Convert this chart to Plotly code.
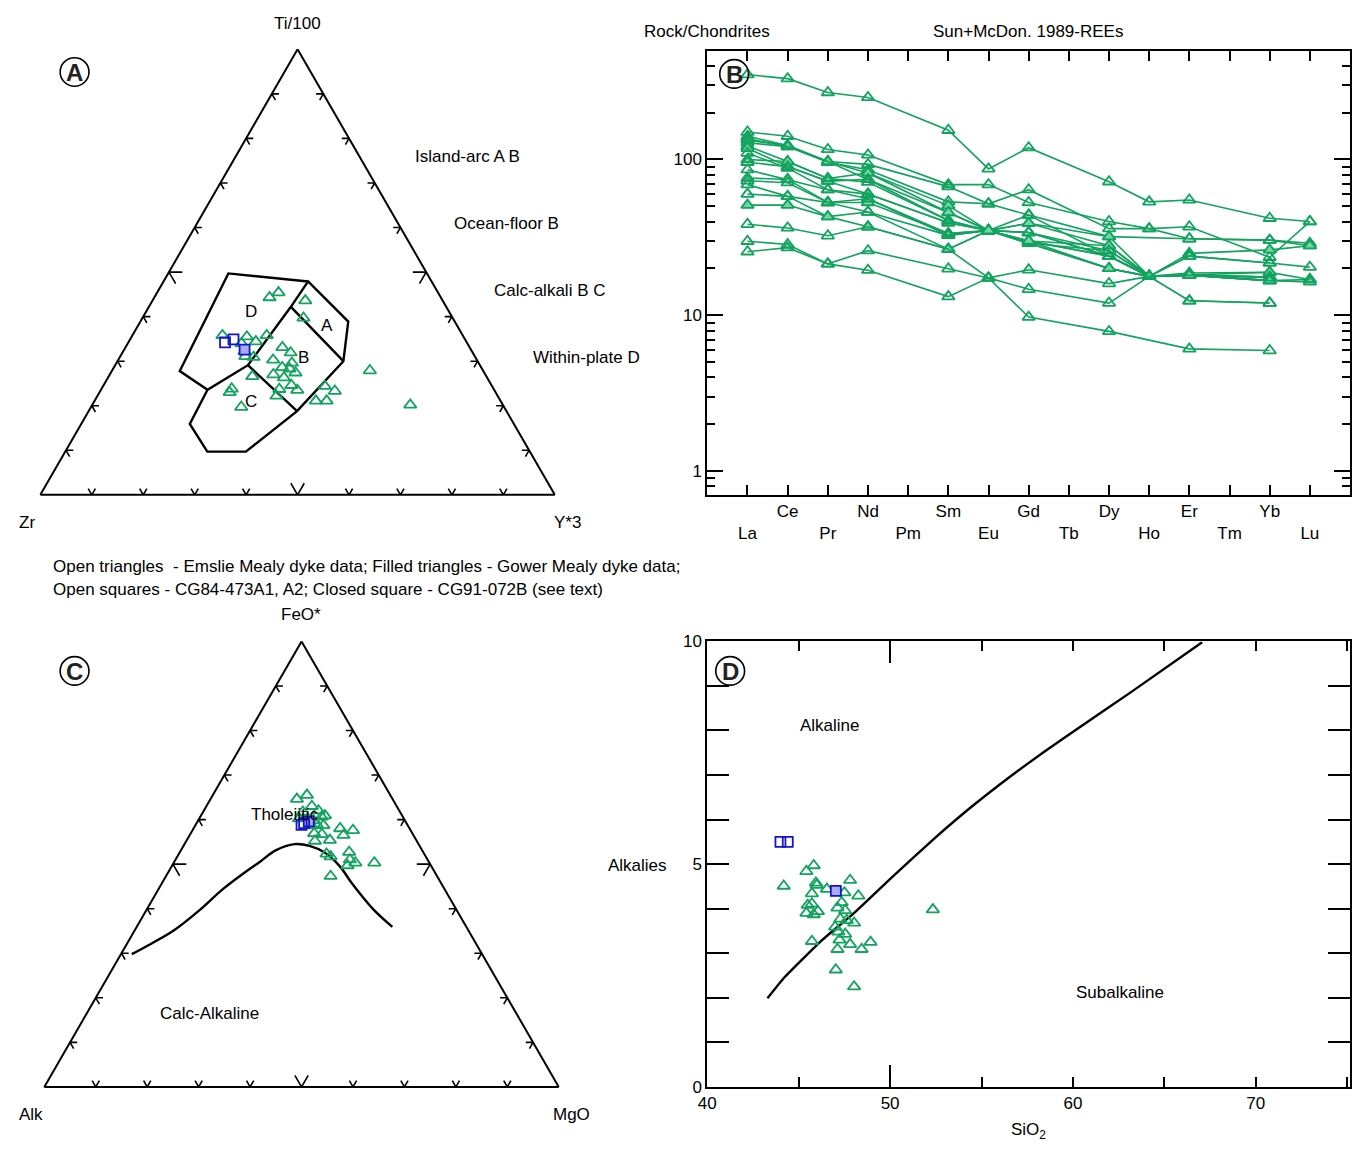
import plotly.graph_objects as go

W, H = 1354, 1151
FONT = "Liberation Sans, Arial, Helvetica, sans-serif"
GREEN = "#12a35e"
MINT = "#74d6a6"
BLUE = "#1414cc"
LBLUE = "#aaaaf0"

# ---------------- Panel A : Ti/100 - Zr - Y*3 (percent) ----------------
A_TI = [45.4, 44.3, 43.6, 39.7, 35.8, 35.5, 35.8, 34.4, 34.0, 32.2, 31.1, 30.9, 33.1, 31.9, 30.3,
        29.6, 28.6, 28.3, 27.4, 27.0, 26.3, 26.6, 24.6, 23.7, 23.5, 22.2, 24.4, 23.3, 21.1, 21.1,
        27.9, 20.2, 23.8, 23.0, 19.7]
A_ZR = [31.0, 33.3, 26.7, 29.0, 46.7, 42.1, 38.1, 40.9, 43.9, 44.2, 44.6, 43.1, 36.4, 35.4, 39.6,
        36.3, 38.7, 37.4, 36.7, 41.2, 39.5, 45.5, 38.9, 41.7, 38.3, 43.0, 32.5, 31.1, 35.9, 33.8,
        22.0, 18.0, 50.9, 51.7, 51.1]
A_Y = [23.6, 22.4, 29.7, 31.3, 17.5, 22.4, 26.1, 24.7, 22.1, 23.6, 24.3, 26.0, 30.5, 32.7, 30.1,
       34.1, 32.7, 34.3, 35.9, 31.8, 34.2, 27.9, 36.5, 34.6, 38.2, 34.8, 43.1, 45.6, 43.0, 45.1,
       50.1, 61.8, 25.3, 25.3, 29.2]
A_SQ_TI = [34.2, 34.9]
A_SQ_ZR = [47.0, 45.0]
A_SQ_Y = [18.8, 20.1]
A_FSQ_TI = [32.6]
A_FSQ_ZR = [44.0]
A_FSQ_Y = [23.4]

# field boundaries (Pearce & Cann), None separates segments
FIELD_TI = [47.9, 49.7, 27.8, 23.6, 29.1, 42.2, 47.9, 38.9, 30.0, 18.8, 9.7, 9.7, 15.9, 23.6, None,
            42.2, 30.0, None, 29.1, 18.8]
FIELD_ZR = [24.0, 38.6, 59.0, 55.7, 45.1, 30.2, 24.0, 20.7, 26.1, 40.7, 55.2, 62.7, 63.0, 55.7, None,
            30.2, 26.1, None, 45.1, 40.7]
FIELD_Y = [28.1, 11.7, 13.2, 20.7, 25.8, 27.6, 28.1, 40.4, 43.9, 40.5, 35.1, 27.6, 21.1, 20.7, None,
           27.6, 43.9, None, 25.8, 40.5]

# ---------------- Panel B : REE / chondrite ----------------
REE = ["La", "Ce", "Pr", "Nd", "Pm", "Sm", "Eu", "Gd", "Tb", "Dy", "Ho", "Er", "Tm", "Yb", "Lu"]
REE_LABELS = ["<br>La", "Ce", "<br>Pr", "Nd", "<br>Pm", "Sm", "<br>Eu", "Gd", "<br>Tb", "Dy",
              "<br>Ho", "Er", "<br>Tm", "Yb", "<br>Lu"]
MEAS = ["La", "Ce", "Pr", "Nd", "Sm", "Eu", "Gd", "Dy", "Ho", "Er", "Yb", "Lu"]
ree_01 = [350, 330, 269, 250, 154, 87, 119, 72, 53.5, 55, 42, 40]
ree_02 = [150, 141, 116, 107, 69, 69, 53, 40, 36, 37, 23.6, 40]
ree_03 = [141, 123, 97, 93, 67, 52, 64, 36, 36, 31, 30.4, 29]
ree_04 = [136, 121, 96, 86, 53.5, 52, 44, 32, None, 31, 30.4, 28]
ree_05 = [133, 123, 97, 82, 50.6, 35, 39, 28, 17.8, 25, 26.3, 28]
ree_06 = [128, 121, 97, 74.5, 45.7, 35, 34, 26, 17.8, 24, 21.7, 20.4]
ree_07 = [122, 97, 75.5, 71.5, 40.6, 35, 30, 24, 17.8, 18.7, 18.9, 17]
ree_08 = [118, 90, 72.6, 60, 39.3, 35, 29, 20, 17.8, 18.1, 16.7, 16.4]
ree_09 = [110, 88, 64, 56, 33.5, 35, 34, 24, 17.8, 18.1, 17.6, None]
ree_10 = [100, 97, 75.5, 82, 45.7, 35, 30, 28, 17.8, 18.1, 18.9, None]
ree_11 = [96, 90, 72.6, 74.5, 40.6, 35, 29, 26, 17.8, 24, 21.7, None]
ree_12 = [86, 74.5, 64, 60, 39.3, 35, 30, 24, 17.8, 18.1, 17.6, None]
ree_13 = [76, 74.5, 53, 53, 33.5, 35, 39, 32, 17.8, 18.1, 16.7, None]
ree_14 = [73, 71, 53, 56, 32.6, 35, 29, 20, 17.8, 18.1, 17.6, None]
ree_15 = [69, 58, 53, 46, 32.6, 35, 34, 24, 17.8, 18.1, 17.6, None]
ree_16 = [60, 58, 43, 46, 26.6, 35, 44, 24, 17.8, 12.4, 12, None]
ree_17 = [51, 51, 43, 37, 26.6, 35, 30, 20, 17.8, 18.1, 16.7, None]
ree_18 = [38.4, 36.4, 32.4, 37, 26.6, 17.4, 19.6, 16, 17.8, 18.1, 16.7, 17]
ree_19 = [29.9, 28.5, 21.4, 26, 19.9, 17.4, 9.75, 7.9, None, 6.1, 5.95, None]
ree_20 = [25.6, 27.2, 21.4, 19.5, 13.2, 17.4, 14.7, 12, 17.8, 12.4, 12, None]
REE_SERIES = [ree_01, ree_02, ree_03, ree_04, ree_05, ree_06, ree_07, ree_08, ree_09, ree_10,
              ree_11, ree_12, ree_13, ree_14, ree_15, ree_16, ree_17, ree_18, ree_19, ree_20]
REE_FILLED = [5, 8, 10, 13, 17]  # 1-based sample numbers plotted with filled triangles

# ---------------- Panel C : AFM (FeO* - Alk - MgO, percent) ----------------
C_FEO = [65.5, 64.6, 63.0, 62.0, 61.7, 60.9, 60.6, 59.8, 60.2, 58.9, 58.7, 58.0, 57.6, 56.5, 56.9,
         56.7, 55.4, 55.2, 52.3, 51.7, 52.7, 51.0, 50.3, 49.7, 50.3, 47.3, 58.7]
C_ALK = [16.2, 18.6, 16.5, 15.7, 18.9, 15.0, 15.8, 17.8, 20.4, 17.6, 16.4, 13.5, 11.2, 13.6, 19.1,
         17.7, 16.8, 19.8, 19.0, 18.5, 14.4, 15.1, 14.4, 16.2, 10.7, 20.7, 18.8]
C_MGO = [18.3, 16.8, 20.5, 22.3, 19.4, 24.1, 23.6, 22.4, 19.4, 23.5, 24.9, 28.5, 31.2, 29.9, 24.0,
         25.6, 27.8, 25.0, 28.7, 29.8, 32.9, 33.9, 35.3, 34.1, 39.0, 32.0, 22.5]
C_SQ_FEO = [58.8, 59.2]
C_SQ_ALK = [20.6, 19.9]
C_SQ_MGO = [20.6, 20.9]
C_FSQ_FEO = [59.6]
C_FSQ_ALK = [18.8]
C_FSQ_MGO = [21.6]
CURVE_FEO = [29.8, 31.7, 35.1, 39.8, 44.4, 48.3, 50.6, 53.1, 54.5, 54.1, 52.6, 49.5, 46.0, 42.7, 39.8, 35.9]
CURVE_ALK = [68.1, 64.1, 57.3, 49.8, 43.1, 36.7, 32.7, 28.5, 24.1, 21.4, 19.2, 17.8, 17.4, 16.8, 16.1, 14.4]
CURVE_MGO = [2.1, 4.2, 7.6, 10.4, 12.5, 15.0, 16.7, 18.4, 21.4, 24.5, 28.2, 32.7, 36.6, 40.5, 44.1, 49.7]

# ---------------- Panel D : SiO2 vs alkalies ----------------
D_SIO2 = [39.98, 45.82, 45.42, 44.18, 45.94, 45.99, 46.54, 45.72, 47.81, 47.50, 48.26, 45.49, 45.72,
          45.42, 45.82, 46.05, 47.12, 47.35, 47.54, 47.27, 47.63, 48.03, 46.99, 47.17, 47.54, 47.23,
          47.81, 45.72, 47.12, 48.44, 48.93, 47.03, 48.03, 52.34]
D_ALK = [5.11, 4.97, 4.84, 4.51, 4.58, 4.53, 4.44, 4.34, 4.64, 4.36, 4.29, 4.08, 4.11, 3.90, 3.87,
         3.94, 4.02, 4.14, 3.96, 3.77, 3.74, 3.68, 3.59, 3.48, 3.43, 3.30, 3.20, 3.27, 3.09, 3.09,
         3.25, 2.63, 2.25, 3.98]
D_SQ_SIO2 = [44.0, 44.4]
D_SQ_ALK = [5.50, 5.50]
D_FSQ_SIO2 = [47.03]
D_FSQ_ALK = [4.40]
BOUND_SIO2 = [43.29, 44.20, 46.29, 47.99, 50.08, 52.43, 54.52, 56.61, 58.45, 60.53, 63.14, 67.07]
BOUND_ALK = [1.99, 2.45, 3.30, 3.89, 4.70, 5.58, 6.31, 6.98, 7.53, 8.12, 8.85, 9.98]


def px(x):
    return x / W


def py(y):
    return 1 - y / H


fig = go.Figure()

tri_open = dict(symbol="triangle-up-open", size=11, color=GREEN, line=dict(width=1.8, color=GREEN))
sq_open = dict(symbol="square-open", size=10, color=BLUE, line=dict(width=1.8, color=BLUE))
sq_fill = dict(symbol="square", size=10, color=LBLUE, line=dict(width=1.8, color=BLUE))


def chevrons(small=1.4, big=2.6):
    a, b, c = [], [], []
    for t in range(10, 100, 10):
        L = big if t == 50 else small
        groups = [
            [(t, 100 - t - L, L), (t, 100 - t, 0), (t - L, 100 - t, L)],
            [(L, 100 - t, t - L), (0, 100 - t, t), (L, 100 - t - L, t)],
            [(t, L, 100 - t - L), (t, 0, 100 - t), (t - L, L, 100 - t)],
        ]
        for g in groups:
            for p in g:
                a.append(p[0]); b.append(p[1]); c.append(p[2])
            a.append(None); b.append(None); c.append(None)
    return a, b, c


cha, chb, chc = chevrons()

# ----- Panel A traces -----
fig.add_trace(go.Scatterternary(a=cha, b=chb, c=chc, mode="lines", subplot="ternary",
                                line=dict(color="black", width=1.6), hoverinfo="skip"))
fig.add_trace(go.Scatterternary(a=FIELD_TI, b=FIELD_ZR, c=FIELD_Y, mode="lines", subplot="ternary",
                                line=dict(color="black", width=2.4), hoverinfo="skip"))
fig.add_trace(go.Scatterternary(a=A_TI, b=A_ZR, c=A_Y, mode="markers", subplot="ternary", marker=tri_open))
fig.add_trace(go.Scatterternary(a=A_FSQ_TI, b=A_FSQ_ZR, c=A_FSQ_Y, mode="markers", subplot="ternary", marker=sq_fill))
fig.add_trace(go.Scatterternary(a=A_SQ_TI, b=A_SQ_ZR, c=A_SQ_Y, mode="markers", subplot="ternary", marker=sq_open))

# ----- Panel C traces -----
fig.add_trace(go.Scatterternary(a=cha, b=chb, c=chc, mode="lines", subplot="ternary2",
                                line=dict(color="black", width=1.6), hoverinfo="skip"))
fig.add_trace(go.Scatterternary(a=CURVE_FEO, b=CURVE_ALK, c=CURVE_MGO, mode="lines", subplot="ternary2",
                                line=dict(color="black", width=2.4, shape="spline", smoothing=1.0),
                                hoverinfo="skip"))
fig.add_trace(go.Scatterternary(a=C_FEO, b=C_ALK, c=C_MGO, mode="markers", subplot="ternary2", marker=tri_open))
fig.add_trace(go.Scatterternary(a=C_FSQ_FEO, b=C_FSQ_ALK, c=C_FSQ_MGO, mode="markers", subplot="ternary2", marker=sq_fill))
fig.add_trace(go.Scatterternary(a=C_SQ_FEO, b=C_SQ_ALK, c=C_SQ_MGO, mode="markers", subplot="ternary2", marker=sq_open))

# ----- Panel B traces -----
for i, s in enumerate(REE_SERIES, start=1):
    filled = i in REE_FILLED
    fig.add_trace(go.Scatter(
        x=MEAS, y=s, mode="lines+markers", connectgaps=True, xaxis="x", yaxis="y",
        line=dict(color=GREEN, width=1.6),
        marker=dict(symbol="triangle-up" if filled else "triangle-up-open", size=11,
                    color=MINT if filled else GREEN, line=dict(width=1.8, color=GREEN)),
    ))

# ----- Panel D traces -----
fig.add_trace(go.Scatter(x=BOUND_SIO2, y=BOUND_ALK, mode="lines", xaxis="x2", yaxis="y2",
                         line=dict(color="black", width=2.4, shape="spline", smoothing=0.4),
                         hoverinfo="skip", cliponaxis=True))
fig.add_trace(go.Scatter(x=D_SIO2, y=D_ALK, mode="markers", xaxis="x2", yaxis="y2", marker=tri_open,
                         cliponaxis=False))
fig.add_trace(go.Scatter(x=D_FSQ_SIO2, y=D_FSQ_ALK, mode="markers", xaxis="x2", yaxis="y2", marker=sq_fill))
fig.add_trace(go.Scatter(x=D_SQ_SIO2, y=D_SQ_ALK, mode="markers", xaxis="x2", yaxis="y2", marker=sq_open))
fig.add_trace(go.Scatter(x=[], y=[], xaxis="x3", yaxis="y2", hoverinfo="skip"))

# ----- layout -----
tern_axis = dict(showline=True, linecolor="black", linewidth=2, showgrid=False, ticks="",
                 showticklabels=False, title=dict(text=""))


def tern(x0, x1, y0, y1):
    return dict(domain=dict(x=[px(x0), px(x1)], y=[py(y1), py(y0)]), sum=100, bgcolor="white",
                aaxis=tern_axis, baxis=tern_axis, caxis=tern_axis)


fig.update_layout(
    width=W, height=H, autosize=False, margin=dict(l=0, r=0, t=0, b=0),
    paper_bgcolor="white", plot_bgcolor="white", showlegend=False,
    font=dict(family=FONT, size=17, color="black"),
    ternary=tern(29, 552, 41, 494),
    ternary2=tern(33, 556, 643, 1096),
    xaxis=dict(domain=[px(703), px(1350)], anchor="y", type="category", categoryorder="array",
               categoryarray=REE, range=[-1, 15], tickvals=REE, ticktext=REE_LABELS, tickangle=0,
               ticks="inside", ticklen=10, tickwidth=2, tickcolor="black", mirror="allticks",
               showline=True, linecolor="black", linewidth=2, showgrid=False, zeroline=False,
               tickfont=dict(size=17)),
    yaxis=dict(domain=[py(494), py(43)], anchor="x", type="log", range=[-0.151, 2.694],
               tickvals=[1, 10, 100], ticktext=["1", "10", "100"], ticks="inside", ticklen=16,
               tickwidth=2, tickcolor="black", mirror="allticks", showline=True, linecolor="black",
               linewidth=2, showgrid=False, zeroline=False, tickfont=dict(size=17),
               minor=dict(tickvals=[0.8, 0.9, 2, 3, 4, 5, 6, 7, 8, 9, 20, 30, 40, 50, 60, 70, 80, 90,
                                    200, 300, 400],
                          ticks="inside", ticklen=8, tickwidth=2, tickcolor="black", showgrid=False)),
    xaxis2=dict(domain=[px(703), px(1350)], anchor="y2", range=[40, 75.16], tickvals=[40, 50, 60, 70],
                ticks="inside", ticklen=10, tickwidth=2, tickcolor="black", mirror="allticks",
                showline=True, linecolor="black", linewidth=2, showgrid=False, zeroline=False,
                tickfont=dict(size=17),
                minor=dict(dtick=5, ticks="inside", ticklen=10, tickwidth=2, tickcolor="black",
                           showgrid=False)),
    xaxis3=dict(overlaying="x2", anchor="y2", range=[40, 75.16], tickvals=[50], ticks="inside",
                ticklen=22, tickwidth=2, tickcolor="black", mirror="allticks", showline=False,
                showticklabels=False, showgrid=False, zeroline=False),
    yaxis2=dict(domain=[py(1096), py(643)], anchor="x2", range=[0, 10], tickvals=[0, 5, 10],
                ticks="inside", ticklen=22, tickwidth=2, tickcolor="black", mirror="allticks",
                showline=True, linecolor="black", linewidth=2, showgrid=False, zeroline=False,
                tickfont=dict(size=17),
                minor=dict(dtick=1, ticks="inside", ticklen=10, tickwidth=2, tickcolor="black",
                           showgrid=False)),
)

texts = [
    ("Ti/100", 290, 15, "center"), ("Zr", 18, 522, "center"), ("Y*3", 562, 522, "center"),
    ("Island-arc A B", 462, 150, "center"), ("Ocean-floor B", 501, 218, "center"),
    ("Calc-alkali B C", 544, 286, "center"), ("Within-plate D", 581, 354, "center"),
    ("D", 244, 308, "center"), ("A", 320, 322, "center"), ("B", 296, 354, "center"), ("C", 244, 399, "center"),
    ("Rock/Chondrites", 703, 23, "center"), ("Sun+McDon. 1989-REEs", 1026, 23, "center"),
    ("Open triangles  - Emslie Mealy dyke data; Filled triangles - Gower Mealy dyke data;", 42, 567, "left"),
    ("Open squares - CG84-473A1, A2; Closed square - CG91-072B (see text)", 42, 590, "left"),
    ("FeO*", 294, 616, "center"), ("Alk", 22, 1124, "center"), ("MgO", 566, 1124, "center"),
    ("Tholeiitic", 278, 819, "center"), ("Calc-Alkaline", 202, 1021, "center"),
    ("Alkaline", 826, 729, "center"), ("Subalkaline", 1118, 1000, "center"),
    ("Alkalies", 633, 871, "center"), ("SiO<sub>2</sub>", 1026, 1141, "center"),
]
ann = []
for t, x, y, anc in texts:
    ann.append(dict(text=t, x=px(x), y=py(y), xref="paper", yref="paper", xanchor=anc, yanchor="middle",
                    showarrow=False, font=dict(family=FONT, size=17, color="black")))

circles = [("A", 66, 64), ("B", 730, 66), ("C", 66, 673), ("D", 726, 673)]
shapes = []
for t, x, y in circles:
    r = 14.5
    shapes.append(dict(type="circle", xref="paper", yref="paper", x0=px(x - r), x1=px(x + r),
                       y0=py(y + r), y1=py(y - r), line=dict(color="black", width=1.6), layer="above"))
    ann.append(dict(text="<b>%s</b>" % t, x=px(x), y=py(y + 1), xref="paper", yref="paper",
                    xanchor="center", yanchor="middle", showarrow=False,
                    font=dict(family=FONT, size=24, color="#222222")))

fig.update_layout(annotations=ann, shapes=shapes)

css_fix = (
    "var s=document.createElement('style');"
    "s.textContent='html,body{margin:0!important;padding:0!important;overflow:hidden!important;}"
    "body>div{margin:0!important;padding:0!important;}';"
    "document.head.appendChild(s);window.scrollTo(0,0);"
)
fig.write_html("out.html", config={"displayModeBar": False}, post_script=css_fix)
